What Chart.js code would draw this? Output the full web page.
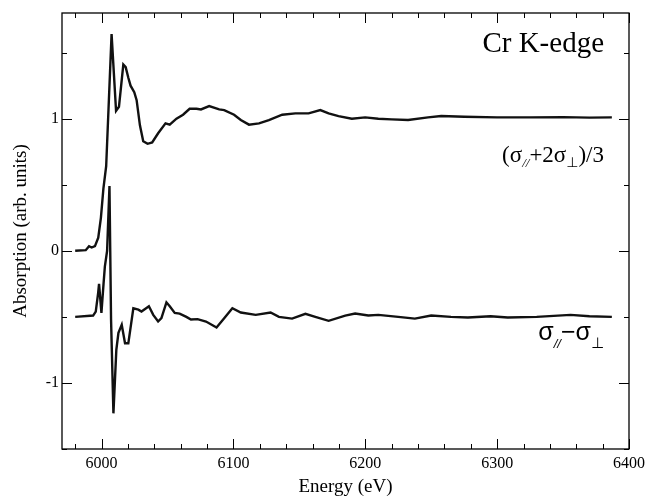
<!DOCTYPE html>
<html lang="en">
<head>
<meta charset="UTF-8">
<title>Cr K-edge absorption</title>
<script src="https://cdn.jsdelivr.net/npm/chart.js"></script>
<style>
  html, body { margin: 0; padding: 0; background: #fff; }
  #wrap { width: 650px; height: 497px; }
</style>
</head>
<body>
<div id="wrap"><canvas id="xas"></canvas></div>
<script>
// (sigma_par + 2 sigma_perp)/3 spectrum
const avgEnergy = [5980, 5988, 5990.5, 5992.5, 5995, 5997.5, 5999.5, 6001.4, 6003.5, 6007.6,
  6011, 6013.2, 6016.5, 6018.3, 6020.3, 6022, 6024.8, 6026.6, 6029.1, 6031.6,
  6034.9, 6038.4, 6042.9, 6048.5, 6051.7, 6056.8, 6061.8, 6066.8, 6072, 6075.4,
  6081.6, 6089.2, 6093, 6100.5, 6105.6, 6111.8, 6119.4, 6126.9, 6137, 6147,
  6157, 6165.9, 6172.2, 6179.7, 6189.8, 6199.9, 6209.9, 6219.9, 6232.5, 6247.6,
  6257.6, 6275, 6300, 6325, 6350, 6370, 6387];
const avgValue = [0.00, 0.005, 0.035, 0.025, 0.035, 0.10, 0.25, 0.47, 0.64, 1.64,
  1.06, 1.09, 1.41, 1.39, 1.31, 1.25, 1.20, 1.14, 0.95, 0.83,
  0.81, 0.82, 0.89, 0.965, 0.955, 1.00, 1.03, 1.075, 1.075, 1.07,
  1.095, 1.07, 1.065, 1.03, 0.99, 0.955, 0.965, 0.99, 1.03, 1.04,
  1.04, 1.065, 1.04, 1.02, 1.00, 1.01, 1.00, 0.995, 0.99, 1.01,
  1.02, 1.015, 1.01, 1.01, 1.012, 1.008, 1.01];

// sigma_par - sigma_perp (dichroism, shifted by -0.5)
const diffEnergy = [5980, 5993.6, 5995.6, 5997.4, 5998.1, 5999.9, 6001.5, 6002.5, 6004.2, 6006,
  6007.2, 6009, 6011.2, 6012.8, 6015.3, 6017.8, 6020.3, 6024.1, 6027.9, 6030.3,
  6035.9, 6039.2, 6042.9, 6045.4, 6049.2, 6051.7, 6055.5, 6059.2, 6064.3, 6067.8,
  6072.8, 6079.2, 6087.2, 6093, 6099.2, 6105.6, 6116.9, 6128.2, 6134.5, 6144.5,
  6154.6, 6162.1, 6172.2, 6184.8, 6192.3, 6202.3, 6209.9, 6225, 6237.6, 6250,
  6265, 6277.8, 6295, 6308, 6330, 6355.7, 6370, 6387];
const diffValue = [-0.50, -0.49, -0.46, -0.32, -0.25, -0.47, -0.25, -0.12, 0.00, 0.49,
  -0.52, -1.23, -0.75, -0.62, -0.56, -0.70, -0.70, -0.435, -0.445, -0.46,
  -0.42, -0.485, -0.535, -0.51, -0.39, -0.42, -0.47, -0.475, -0.50, -0.52,
  -0.517, -0.535, -0.58, -0.51, -0.435, -0.467, -0.485, -0.467, -0.50, -0.513,
  -0.477, -0.50, -0.53, -0.49, -0.475, -0.49, -0.485, -0.50, -0.513, -0.49,
  -0.50, -0.505, -0.495, -0.505, -0.50, -0.485, -0.495, -0.50];

const energyTicks = [6000, 6100, 6200, 6300, 6400];
const absTicks = [-1, 0, 1];

const serif = '"Liberation Serif", "Times New Roman", serif';

function pts(xs, ys) {
  return xs.map((x, i) => ({ x: x, y: ys[i] }));
}

// draw a label made of pieces (for the sub-scripts), right aligned
function drawRich(ctx, parts, xRight, baseline) {
  let total = 0;
  parts.forEach(p => { ctx.font = p.font; total += ctx.measureText(p.t).width; });
  let x = xRight - total;
  ctx.textAlign = 'left';
  ctx.textBaseline = 'alphabetic';
  parts.forEach(p => {
    ctx.font = p.font;
    ctx.fillText(p.t, x, baseline + (p.dy || 0));
    x += ctx.measureText(p.t).width;
  });
}

const framePlugin = {
  id: 'frame',
  afterDraw(chart) {
    const ctx = chart.ctx;
    const a = chart.chartArea;
    const xs = chart.scales.x, ys = chart.scales.y;
    ctx.save();
    ctx.strokeStyle = '#000';
    ctx.lineWidth = 1.3;
    ctx.strokeRect(a.left, a.top, a.right - a.left, a.bottom - a.top);

    ctx.lineWidth = 1;
    ctx.beginPath();
    // x ticks, inward on bottom and top
    for (let e = 5980; e <= 6400; e += 20) {
      const px = Math.round(xs.getPixelForValue(e)) + 0.5;
      const len = e % 100 === 0 ? 10 : 5;
      ctx.moveTo(px, a.bottom); ctx.lineTo(px, a.bottom - len);
      ctx.moveTo(px, a.top); ctx.lineTo(px, a.top + len);
    }
    // y ticks, inward on left and right
    for (let v = -1.5; v <= 1.8; v += 0.5) {
      const py = Math.round(ys.getPixelForValue(v)) + 0.5;
      const len = Math.abs(v % 1) < 1e-9 ? 10 : 5;
      ctx.moveTo(a.left, py); ctx.lineTo(a.left + len, py);
      ctx.moveTo(a.right, py); ctx.lineTo(a.right - len, py);
    }
    ctx.stroke();

    ctx.fillStyle = '#000';
    ctx.textAlign = 'right';
    ctx.textBaseline = 'alphabetic';
    ctx.font = '29px ' + serif;
    ctx.fillText('Cr K-edge', 604, 52);

    drawRich(ctx, [
      { t: '(', font: '23px ' + serif },
      { t: 'σ', font: '23px ' + serif },
      { t: '//', font: 'italic 13px ' + serif, dy: 5 },
      { t: '+2σ', font: '23px ' + serif },
      { t: '⊥', font: '14px "DejaVu Sans", sans-serif', dy: 5 },
      { t: ')/3', font: '23px ' + serif }
    ], 604, 162);

    drawRich(ctx, [
      { t: 'σ', font: '25px "Liberation Sans", sans-serif' },
      { t: '//', font: 'italic 13px "Liberation Sans", sans-serif', dy: 8 },
      { t: '−', font: '25px "Liberation Sans", sans-serif' },
      { t: 'σ', font: '25px "Liberation Sans", sans-serif' },
      { t: '⊥', font: '15px "DejaVu Sans", sans-serif', dy: 8 }
    ], 604, 340);
    ctx.restore();
  }
};

const ctx = document.getElementById('xas').getContext('2d');
const xasChart = new Chart(ctx, {
  type: 'line',
  data: {
    datasets: [{
      label: '(σ//+2σ⊥)/3',
      data: pts(avgEnergy, avgValue),
      borderColor: '#111',
      borderWidth: 2.4,
      pointRadius: 0,
      tension: 0,
      fill: false
    }, {
      label: 'σ//−σ⊥',
      data: pts(diffEnergy, diffValue),
      borderColor: '#111',
      borderWidth: 2.4,
      pointRadius: 0,
      tension: 0,
      fill: false
    }]
  },
  options: {
    responsive: true,
    maintainAspectRatio: false,
    animation: false,
    layout: { padding: { top: 13, right: 18, left: 0, bottom: 0 } },
    plugins: {
      legend: { display: false },
      tooltip: { enabled: false }
    },
    scales: {
      x: {
        type: 'linear',
        min: 5970,
        max: 6400,
        grid: { display: false, drawTicks: false },
        border: { display: false },
        afterBuildTicks: s => { s.ticks = energyTicks.map(v => ({ value: v })); },
        afterFit: s => { s.height = 48; },
        ticks: {
          color: '#000',
          font: { family: serif, size: 16 },
          padding: 5,
          maxRotation: 0,
          autoSkip: false,
          callback: v => String(v)
        },
        title: {
          display: true,
          text: 'Energy (eV)',
          color: '#000',
          font: { family: serif, size: 19, lineHeight: 1 },
          padding: 0
        }
      },
      y: {
        type: 'linear',
        min: -1.5,
        max: 1.8,
        grid: { display: false, drawTicks: false },
        border: { display: false },
        afterBuildTicks: s => { s.ticks = absTicks.map(v => ({ value: v })); },
        afterFit: s => { s.width = 62; },
        ticks: {
          color: '#000',
          font: { family: serif, size: 16 },
          padding: 3,
          callback: v => String(v)
        },
        title: {
          display: true,
          text: 'Absorption (arb. units)',
          color: '#000',
          font: { family: serif, size: 19, lineHeight: 1.2 },
          padding: { top: 10, bottom: 0 }
        }
      }
    }
  },
  plugins: [framePlugin]
});
</script>
</body>
</html>
